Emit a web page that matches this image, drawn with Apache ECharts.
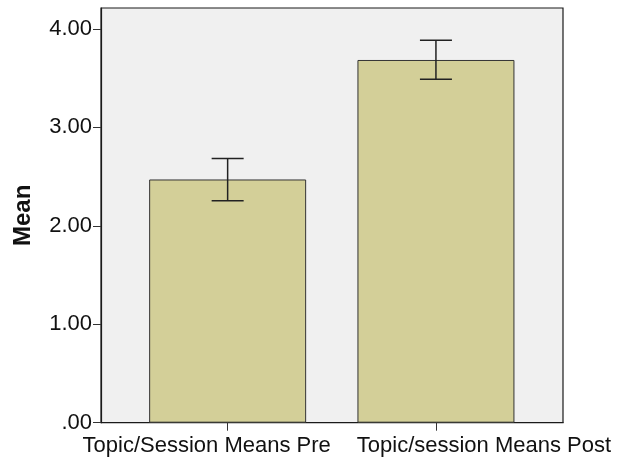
<!DOCTYPE html>
<html><head><meta charset="utf-8">
<script src="https://cdn.jsdelivr.net/npm/echarts@6/dist/echarts.min.js"></script>
<style>html,body{margin:0;padding:0;background:#fff}#c{width:620px;height:461px}</style>
</head><body><div id="c"></div>
<script>
var categories = ['Topic/Session Means Pre', 'Topic/session Means Post'];
var means = [2.471, 3.685];
var errLow = [2.254, 3.489];
var errHigh = [2.684, 3.885];
var yTicks = [0, 1, 2, 3, 4];

var chart = echarts.init(document.getElementById('c'), null, {renderer: 'canvas'});
var FONT = 'Liberation Sans, Arial, sans-serif';
var barData = means.map(function (m, i) { return [i + 1, m]; });
var errData = means.map(function (m, i) { return [i + 1, errLow[i], errHigh[i]]; });
chart.setOption({
  animation: false,
  backgroundColor: '#ffffff',
  grid: {left: 101, right: 57, top: 8, bottom: 38.3, show: true,
    backgroundColor: '#f0f0f0', borderColor: '#1a1a1a', borderWidth: 1.2},
  xAxis: {
    type: 'value', min: 0.392, max: 2.61,
    splitLine: {show: false},
    axisLine: {show: true, lineStyle: {color: '#1a1a1a', width: 1.2}},
    axisTick: {show: true, customValues: [1, 2], length: 8, lineStyle: {color: '#333'}},
    axisLabel: {customValues: [1, 2], margin: 12, color: '#111', fontFamily: FONT, fontSize: 22,
      formatter: function (v) {
        var i = Math.round(v) - 1;
        return '{' + (i === 0 ? 'a' : 'b') + '|' + (categories[i] || '') + '}';
      },
      rich: {
        a: {fontFamily: FONT, fontSize: 22, color: '#111', padding: [0, 42, 0, 0]},
        b: {fontFamily: FONT, fontSize: 22, color: '#111', padding: [0, 0, 0, 96]}
      }}
  },
  yAxis: {
    type: 'value', min: 0, max: 4.213, interval: 1,
    name: 'Mean', nameLocation: 'middle', nameGap: 66,
    nameTextStyle: {fontFamily: FONT, fontSize: 24, fontWeight: 'bold', color: '#111'},
    splitLine: {show: false},
    axisLine: {show: true, lineStyle: {color: '#1a1a1a', width: 1.2}},
    axisTick: {show: true, customValues: yTicks, length: 8, lineStyle: {color: '#333'}},
    axisLabel: {customValues: yTicks, margin: 9, color: '#111', fontFamily: FONT, fontSize: 22,
      formatter: function (v) { return v === 0 ? '.00' : v.toFixed(2); }}
  },
  series: [
    {type: 'bar', data: barData, barWidth: 157,
      itemStyle: {color: '#d3cf98', borderColor: '#333', borderWidth: 1}},
    {type: 'custom', data: errData, z: 5,
      renderItem: function (params, api) {
        var x = api.value(0);
        var lo = api.coord([x, api.value(1)]);
        var hi = api.coord([x, api.value(2)]);
        var hw = 16;
        var st = {stroke: '#222', lineWidth: 1.5};
        return {type: 'group', children: [
          {type: 'line', shape: {x1: lo[0], y1: lo[1], x2: hi[0], y2: hi[1]}, style: st},
          {type: 'line', shape: {x1: lo[0] - hw, y1: lo[1], x2: lo[0] + hw, y2: lo[1]}, style: st},
          {type: 'line', shape: {x1: hi[0] - hw, y1: hi[1], x2: hi[0] + hw, y2: hi[1]}, style: st}
        ]};
      }}
  ]
});
</script></body></html>
